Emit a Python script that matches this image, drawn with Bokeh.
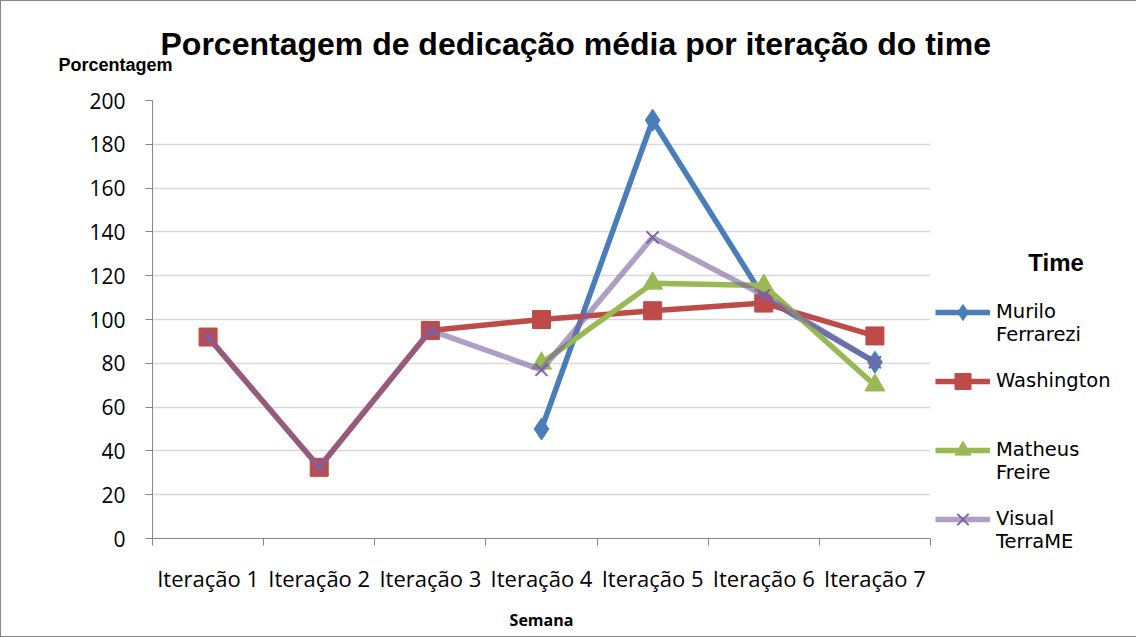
import math
from bokeh.plotting import figure
from bokeh.models import FixedTicker, Range1d, Title
from bokeh.embed import file_html
from bokeh.resources import INLINE

categories = ["Iteração 1", "Iteração 2", "Iteração 3", "Iteração 4",
              "Iteração 5", "Iteração 6", "Iteração 7"]
nan = float("nan")
murilo = [nan, nan, nan, 50, 191, 110, 80.5]
washington = [92, 32.5, 95, 100, 104, 107.5, 92.5]
matheus = [nan, nan, nan, 80, 116.5, 115.5, 70]
visual = [92, 32.5, 95, 77, 137.5, 111, 80.5]
y_ticks = list(range(0, 201, 20))
legend_names = ["Murilo\nFerrarezi", "Washington", "Matheus\nFreire", "Visual\nTerraME"]

xs = list(range(1, len(categories) + 1))

p = figure(frame_width=778, frame_height=438, output_backend="svg", toolbar_location=None,
           x_range=Range1d(0.5, len(categories) + 0.5), y_range=Range1d(0, 200),
           min_border_left=151, min_border_right=198, min_border_top=99, min_border_bottom=98)
p.styles = {"border": "1px solid #868686"}
p.outline_line_color = None
p.background_fill_color = "white"

# axes
p.xaxis.ticker = FixedTicker(ticks=xs, minor_ticks=[x - 0.5 for x in xs] + [xs[-1] + 0.5])
p.xaxis.major_label_overrides = {x: c for x, c in zip(xs, categories)}
p.xaxis.major_tick_line_color = None
p.xaxis.minor_tick_line_color = "#868686"
p.xaxis.minor_tick_out = 7
p.xaxis.minor_tick_in = 0
p.xaxis.axis_line_color = "#868686"
p.xaxis.major_label_text_font = "Open Sans"
p.xaxis.major_label_text_font_size = "22px"
p.xaxis.major_label_text_color = "black"
p.xaxis.major_label_standoff = 17
p.xaxis.axis_label = "Semana"
p.xaxis.axis_label_text_font = "Open Sans"
p.xaxis.axis_label_text_font_style = "bold"
p.xaxis.axis_label_text_font_size = "16px"
p.xaxis.axis_label_text_color = "black"
p.xaxis.axis_label_standoff = 13

p.yaxis.ticker = FixedTicker(ticks=y_ticks)
p.yaxis.minor_tick_line_color = None
p.yaxis.major_tick_line_color = "#868686"
p.yaxis.major_tick_out = 7
p.yaxis.major_tick_in = 0
p.yaxis.axis_line_color = "#868686"
p.yaxis.major_label_text_font = "Open Sans"
p.yaxis.major_label_text_font_size = "21px"
p.yaxis.major_label_text_color = "black"
p.yaxis.major_label_standoff = 20

p.xgrid.grid_line_color = None
p.ygrid.grid_line_color = "#D9D9D9"
p.ygrid.grid_line_width = 1.5
p.ygrid.ticker = FixedTicker(ticks=y_ticks)

styles = [
    (murilo, "#4A7EBB", "#4A7EBB", "diamond", 22, 1.0),
    (washington, "#BE4B48", "#BE4B48", "square", 18, 1.0),
    (matheus, "#98B954", "#98B954", "triangle", 20, 1.0),
    (visual, "#8064A2", "#7D5FA8", "x", 17, 0.62),
]
for name, (vals, lc, mc, marker, size, alpha) in zip(legend_names, styles):
    # pad each label so the legend glyph lines up with its first text line
    lines = name.split("\n")
    if len(lines) == 1:
        lines.append("\u00a0")
    label = "\n".join(["\u00a0"] + lines)
    p.line(xs, vals, line_color=lc, line_width=5.5, line_alpha=alpha, legend_label=label)
    if marker == "x":
        p.scatter(xs, vals, marker="x", size=size, line_color=mc, line_width=2, legend_label=label)
    else:
        p.scatter(xs, vals, marker=marker, size=size, fill_color=mc, line_color=mc, legend_label=label)

lg = p.legend[0]
p.center.remove(lg)
p.add_layout(lg, "right")
lg.location = (5, -15)
lg.padding = 0
lg.margin = 0
lg.spacing = 0
lg.border_line_color = None
lg.background_fill_alpha = 0
lg.glyph_width = 55
lg.glyph_height = 40
lg.label_standoff = 6
lg.label_text_font = "DejaVu Sans"
lg.label_text_font_size = "19.5px"
lg.label_text_color = "black"
lg.title = "\u00a0" * 14 + "Time"
lg.title_text_font = "Liberation Sans"
lg.title_text_font_style = "bold"
lg.title_text_font_size = "24px"
lg.title_text_color = "black"
lg.title_standoff = 0

p.add_layout(Title(text="Porcentagem", align="left", offset=-94, standoff=52,
                   text_font="Liberation Sans", text_font_style="bold", text_font_size="18px",
                   text_color="black"), "above")
p.add_layout(Title(text="Porcentagem de dedicação média por iteração do time", align="left",
                   offset=8, standoff=-70,
                   text_font="Liberation Sans", text_font_style="bold", text_font_size="32px",
                   text_color="black"), "above")

open("out.html", "w").write(file_html(p, INLINE))
